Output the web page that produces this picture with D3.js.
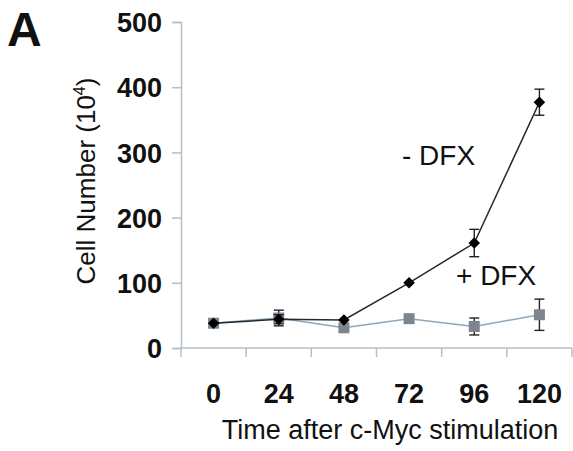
<!DOCTYPE html>
<html>
<head>
<meta charset="UTF-8">
<title>Cell number vs time</title>
<script src="https://d3js.org/d3.v7.min.js"></script>
<style>
  body { margin: 0; background: #fff; }
  svg text { font-family: "Liberation Sans", Arial, sans-serif; fill: #111; }
</style>
</head>
<body>
<svg width="573" height="451"></svg>
<script>
// chart data
var times = ["0", "24", "48", "72", "96", "120"];
var minusDFX = [38, 44, 43, 100, 161, 377];
var minusErr = [3, 7, 3, 3, 21, 20];
var plusDFX = [38, 46, 31, 45, 33, 51];
var plusErr = [3, 12, 3, 3, 13, 24];
var yTicks = [0, 100, 200, 300, 400, 500];

var svg = d3.select("svg");

var x = d3.scaleBand().domain(times).range([181, 572]);
var y = d3.scaleLinear().domain([0, 500]).range([348, 22]);

var axisColor = "#b4bfca";

// y axis
var yAxis = svg.append("g").attr("transform", "translate(181,0)")
  .call(d3.axisLeft(y).tickValues(yTicks).tickSize(9).tickPadding(10));
yAxis.selectAll("line, path").attr("stroke", axisColor).attr("stroke-width", 1.5);
yAxis.selectAll("text").style("font-size", "27px").style("font-weight", "bold")
  .attr("dy", "0.36em");

// x axis: ticks between categories
var xg = svg.append("g");
xg.append("line").attr("x1", 181).attr("x2", 572).attr("y1", y(0)).attr("y2", y(0))
  .attr("stroke", axisColor).attr("stroke-width", 1.5);
var bounds = times.map(function(t) { return x(t); }).concat([x.range()[1]]);
xg.selectAll(".tk").data(bounds).enter().append("line")
  .attr("x1", function(d) { return d; }).attr("x2", function(d) { return d; })
  .attr("y1", y(0)).attr("y2", y(0) + 9)
  .attr("stroke", axisColor).attr("stroke-width", 1.5);
xg.selectAll(".lb").data(times).enter().append("text")
  .attr("x", function(d) { return x(d) + x.bandwidth() / 2; })
  .attr("y", 403).attr("text-anchor", "middle")
  .style("font-size", "27px").style("font-weight", "bold")
  .text(function(d) { return d; });

var cx = function(i) { return x(times[i]) + x.bandwidth() / 2; };

function drawSeries(vals, errs, lineColor, markerFn) {
  var line = d3.line().x(function(d, i) { return cx(i); }).y(function(d) { return y(d); });
  svg.append("path").datum(vals).attr("d", line)
    .attr("fill", "none").attr("stroke", lineColor).attr("stroke-width", 1.5);
  var g = svg.append("g");
  vals.forEach(function(v, i) {
    var e = errs[i];
    if (e > 4) {
      g.append("line").attr("x1", cx(i)).attr("x2", cx(i))
        .attr("y1", y(v - e)).attr("y2", y(v + e)).attr("stroke", "#222").attr("stroke-width", 1.4);
      [v - e, v + e].forEach(function(w) {
        g.append("line").attr("x1", cx(i) - 5).attr("x2", cx(i) + 5)
          .attr("y1", y(w)).attr("y2", y(w)).attr("stroke", "#222").attr("stroke-width", 1.4);
      });
    }
  });
  vals.forEach(function(v, i) { markerFn(g, cx(i), y(v)); });
}

drawSeries(plusDFX, plusErr, "#8fa6b6", function(g, px, py) {
  g.append("rect").attr("x", px - 5.5).attr("y", py - 5.5).attr("width", 11).attr("height", 11)
    .attr("fill", "#7d868f");
});
drawSeries(minusDFX, minusErr, "#1e2a30", function(g, px, py) {
  g.append("path").attr("d", d3.symbol().type(d3.symbolDiamond2).size(85)())
    .attr("transform", "translate(" + px + "," + py + ")").attr("fill", "#000");
});

// labels
svg.append("text").attr("x", 7).attr("y", 46).style("font-size", "48px").style("font-weight", "bold").text("A");

svg.append("text").attr("transform", "translate(95,181) rotate(-90)").attr("text-anchor", "middle")
  .style("font-size", "26px")
  .html('Cell Number (10<tspan dy="-10" style="font-size:16px">4</tspan><tspan dy="10">)</tspan>');

svg.append("text").attr("x", 390).attr("y", 439).attr("text-anchor", "middle")
  .style("font-size", "27px").text("Time after c-Myc stimulation");

svg.append("text").attr("x", 402).attr("y", 165).style("font-size", "28px").text("- DFX");
svg.append("text").attr("x", 456).attr("y", 285).style("font-size", "28px").text("+ DFX");
</script>
</body>
</html>
